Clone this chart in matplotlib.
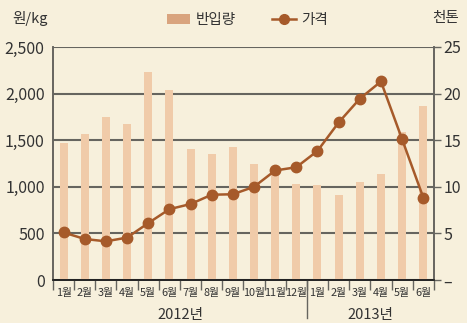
import matplotlib
matplotlib.use('Agg')
import matplotlib.pyplot as plt
from matplotlib.patches import Patch
from matplotlib.lines import Line2D

plt.rcParams['font.family'] = ['Liberation Sans Narrow', 'Noto Sans CJK KR', 'DejaVu Sans']

# monthly data, 2012.1 - 2013.6
months = ['1월', '2월', '3월', '4월', '5월', '6월', '7월', '8월', '9월', '10월', '11월', '12월',
          '1월', '2월', '3월', '4월', '5월', '6월']
years = ['2012년', '2013년']
volume = [14.7, 15.7, 17.5, 16.75, 22.35, 20.4, 14.05, 13.5, 14.3, 12.5, 12.0, 10.3,
          10.2, 9.15, 10.5, 11.4, 15.9, 18.7]          # 반입량, 천톤
price = [510, 440, 415, 455, 610, 760, 815, 915, 920, 1000, 1175, 1210,
         1385, 1690, 1945, 2130, 1510, 885]            # 가격, 원/kg

bg = '#f7f0dc'
bar_c = '#f0cba9'
line_c = '#a65a2a'
grid_c = '#66655f'
txt_c = '#333333'

fig = plt.figure(figsize=(4.67, 3.23), dpi=100, facecolor=bg)
ax = fig.add_axes([0.1135, 0.1331, 0.8155, 0.7214])
ax2 = ax.twinx()
ax.set_zorder(ax2.get_zorder() + 1)
ax.patch.set_visible(False)
ax2.patch.set_visible(False)

x = list(range(len(months)))

# bars on the right axis (천톤), gridlines underneath
ax2.bar(x, volume, width=0.38, color=bar_c, zorder=2)
ax2.set_ylim(0, 25)
ax2.set_yticks([0, 5, 10, 15, 20, 25])
ax2.set_yticklabels(['–', '5', '10', '15', '20', '25'], fontsize=11.5, color=txt_c)
ax2.yaxis.grid(True, color=grid_c, linewidth=1.5, zorder=0)
ax2.set_axisbelow(True)
ax2.tick_params(axis='y', length=5, width=1, color=grid_c, pad=2)

# price line on the left axis (원/kg)
ax.plot(x, price, color=line_c, linewidth=1.8, marker='o', markersize=7.5, zorder=5)
ax.set_ylim(0, 2500)
ax.set_yticks([0, 500, 1000, 1500, 2000, 2500])
ax.set_yticklabels(['0', '500', '1,000', '1,500', '2,000', '2,500'], fontsize=11.5, color=txt_c)
ax.tick_params(axis='y', length=0, pad=6)

ax.set_xlim(-0.5, len(months) - 0.5)
ax.set_xticks(x)
ax.set_xticklabels(months, fontsize=7.8, color=txt_c)
ax.set_xticks([i - 0.5 for i in range(len(months) + 1)], minor=True)
ax.tick_params(axis='x', which='major', length=0, pad=6)
ax.tick_params(axis='x', which='minor', length=7, width=1, color=grid_c)

for a in (ax, ax2):
    a.spines['top'].set_visible(False)
    a.spines['left'].set_color(grid_c)
    a.spines['right'].set_color(grid_c)
    a.spines['bottom'].set_color('#222222')
    a.spines['left'].set_linewidth(1.2)
    a.spines['right'].set_linewidth(1.2)
    a.spines['bottom'].set_linewidth(1.2)

# year separator and year labels
trans = ax.get_xaxis_transform()
ax.plot([11.5, 11.5], [0, -0.165], color=grid_c, linewidth=1, transform=trans, clip_on=False)
ax.text(5.5, -0.15, years[0], transform=trans, ha='center', va='center', fontsize=10.5, color=txt_c)
ax.text(14.5, -0.15, years[1], transform=trans, ha='center', va='center', fontsize=10.5, color=txt_c)

# unit labels
fig.text(0.026, 0.944, '원/kg', ha='left', va='center', fontsize=10.5, color=txt_c)
fig.text(0.983, 0.944, '천톤', ha='right', va='center', fontsize=10.5, color=txt_c)

handles = [Patch(facecolor='#d9a47e', edgecolor='none'),
           Line2D([], [], color=line_c, linewidth=1.8, marker='o', markersize=7)]
fig.legend(handles, ['반입량', '가격'], loc='center', bbox_to_anchor=(0.53, 0.938), ncol=2,
           frameon=False, fontsize=10.5, handlelength=1.6, handletextpad=0.4, columnspacing=2.5,
           labelcolor=txt_c)

fig.savefig('out.png', dpi=100, facecolor=bg)
